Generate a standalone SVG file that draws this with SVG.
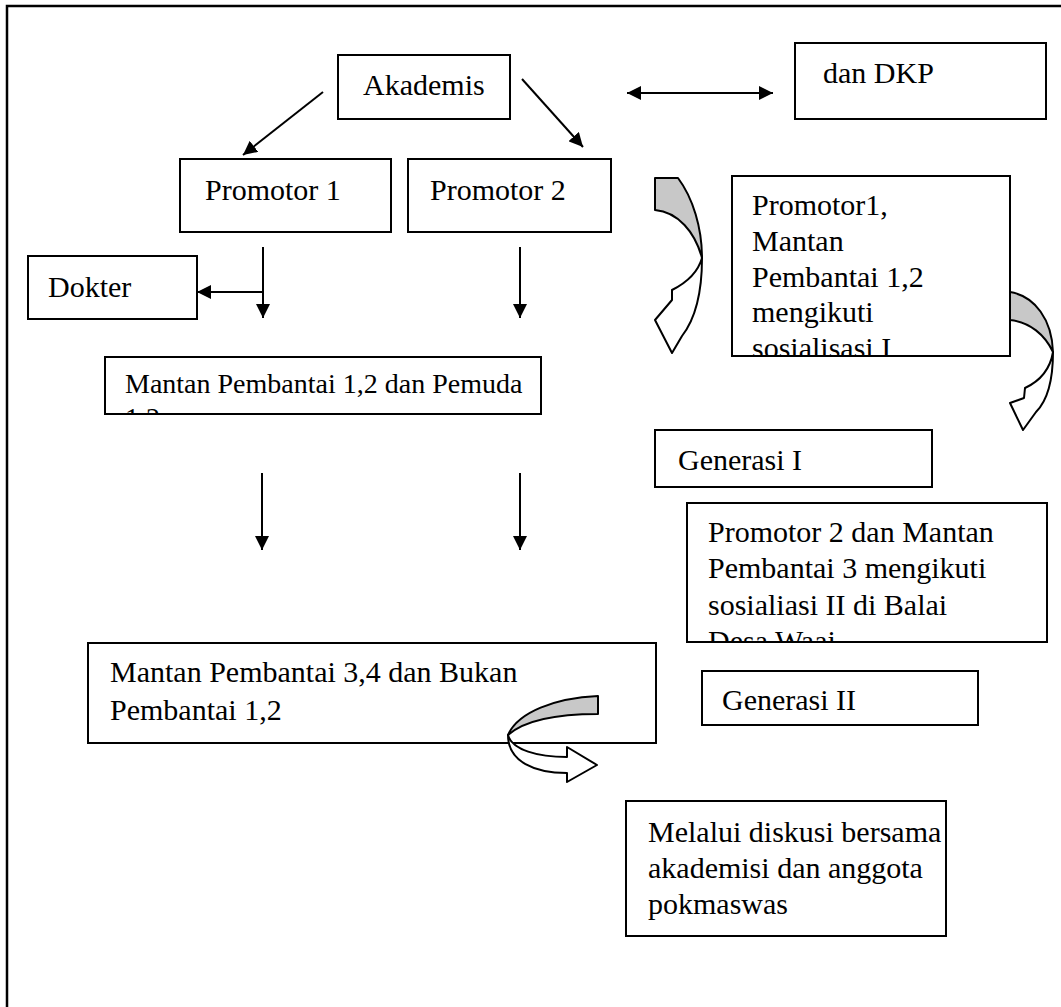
<svg xmlns="http://www.w3.org/2000/svg" width="1061" height="1007" viewBox="0 0 1061 1007">
<style>
.box{fill:#fff;stroke:#000;stroke-width:2}
.t{font-family:"Liberation Serif","Times New Roman",serif;font-size:30px;fill:#000}
.ln{stroke:#000;stroke-width:2;fill:none}
.gray{fill:#c8c8c8;stroke:#000;stroke-width:2;stroke-linejoin:round}
.wh{fill:#fff;stroke:#000;stroke-width:2;stroke-linejoin:round}
</style>
<defs>
<marker id="ah" viewBox="0 0 10 10" refX="10" refY="5" markerWidth="7" markerHeight="7" markerUnits="strokeWidth" orient="auto-start-reverse">
<path d="M0,0 L10,5 L0,10 Z" fill="#000"/>
</marker>
<clipPath id="c1"><rect x="105" y="357" width="436" height="57"/></clipPath>
<clipPath id="c2"><rect x="732" y="176" width="278" height="180"/></clipPath>
<clipPath id="c3"><rect x="687" y="503" width="360" height="139"/></clipPath>
</defs>
<rect x="7" y="6" width="1070" height="1020" fill="none" stroke="#000" stroke-width="2.5"/>

<g id="n-akademis"><rect class="box" x="338" y="55" width="172" height="64"/><text class="t" x="363" y="95">Akademis</text></g>
<g id="n-dkp"><rect class="box" x="795" y="43" width="251" height="76"/><text class="t" x="823" y="83">dan DKP</text></g>
<g id="n-promotor1"><rect class="box" x="180" y="159" width="211" height="73"/><text class="t" x="205" y="200">Promotor 1</text></g>
<g id="n-promotor2"><rect class="box" x="408" y="159" width="203" height="73"/><text class="t" x="430" y="200">Promotor 2</text></g>
<g id="n-dokter"><rect class="box" x="28" y="256" width="169" height="63"/><text class="t" x="48" y="297">Dokter</text></g>
<g id="n-sos1"><rect class="box" x="732" y="176" width="278" height="180"/>
<g clip-path="url(#c2)"><text class="t" x="752" y="215">Promotor1,</text><text class="t" x="752" y="251">Mantan</text><text class="t" x="752" y="287">Pembantai 1,2</text><text class="t" x="752" y="322">mengikuti</text><text class="t" x="752" y="358">sosialisasi I</text></g></g>
<g id="n-mantan12"><rect class="box" x="105" y="357" width="436" height="57"/>
<g clip-path="url(#c1)"><text class="t" x="125" y="393" style="font-size:28px">Mantan Pembantai 1,2 dan Pemuda</text><text class="t" x="125" y="427" style="font-size:28px">1,2</text></g></g>
<g id="n-gen1"><rect class="box" x="655" y="430" width="277" height="57"/><text class="t" x="678" y="470">Generasi I</text></g>
<g id="n-sos2"><rect class="box" x="687" y="503" width="360" height="139"/>
<g clip-path="url(#c3)"><text class="t" x="708" y="542">Promotor 2 dan Mantan</text><text class="t" x="708" y="578">Pembantai 3 mengikuti</text><text class="t" x="708" y="615">sosialiasi II di Balai</text><text class="t" x="708" y="651">Desa Waai</text></g></g>
<g id="n-gen2"><rect class="box" x="702" y="671" width="276" height="54"/><text class="t" x="722" y="710">Generasi II</text></g>
<g id="n-mantan34"><rect class="box" x="88" y="643" width="568" height="100"/><text class="t" x="110" y="682">Mantan Pembantai 3,4 dan Bukan</text><text class="t" x="110" y="720">Pembantai 1,2</text></g>
<g id="n-diskusi"><rect class="box" x="626" y="801" width="320" height="135"/><text class="t" x="648" y="842">Melalui diskusi bersama</text><text class="t" x="648" y="878">akademisi dan anggota</text><text class="t" x="648" y="914">pokmaswas</text></g>

<g id="connectors">
<line class="ln" x1="323" y1="92" x2="243" y2="155" marker-end="url(#ah)"/>
<line class="ln" x1="522" y1="79" x2="583" y2="147" marker-end="url(#ah)"/>
<line class="ln" x1="627" y1="93" x2="773" y2="93" marker-start="url(#ah)" marker-end="url(#ah)"/>
<line class="ln" x1="263" y1="247" x2="263" y2="318" marker-end="url(#ah)"/>
<line class="ln" x1="263" y1="292" x2="197" y2="292" marker-end="url(#ah)"/>
<line class="ln" x1="520" y1="247" x2="520" y2="318" marker-end="url(#ah)"/>
<line class="ln" x1="262" y1="473" x2="262" y2="550" marker-end="url(#ah)"/>
<line class="ln" x1="520" y1="473" x2="520" y2="550" marker-end="url(#ah)"/>
<g id="curved1">
<path class="gray" d="M655,178 L678,178 C693,198 702,228 702,258 C695,232 678,212 655,210 Z"/>
<path class="wh" d="M702,258 C698,272 688,282 672,290 L672,300 L655,320 L672,353 L682,336 C696,318 702,290 702,258 Z"/>
</g>
<g id="curved2">
<path class="gray" d="M1010,292 C1035,296 1052,320 1053,352 C1045,335 1030,322 1010,320 Z"/>
<path class="wh" d="M1053,352 C1050,370 1040,381 1025,388 L1024,398 L1010,403 L1023,430 L1036,412 C1048,400 1053,380 1053,352 Z"/>
</g>
<g id="curved3">
<path class="gray" d="M598,696 L598,714 C560,714 525,720 508,735 C518,712 555,698 598,696 Z"/>
<path class="wh" d="M508,735 C512,750 538,757 567,757 L567,747 L597,765 L567,782 L567,773 C535,773 508,762 508,735 Z"/>
</g>
</g>
</svg>
